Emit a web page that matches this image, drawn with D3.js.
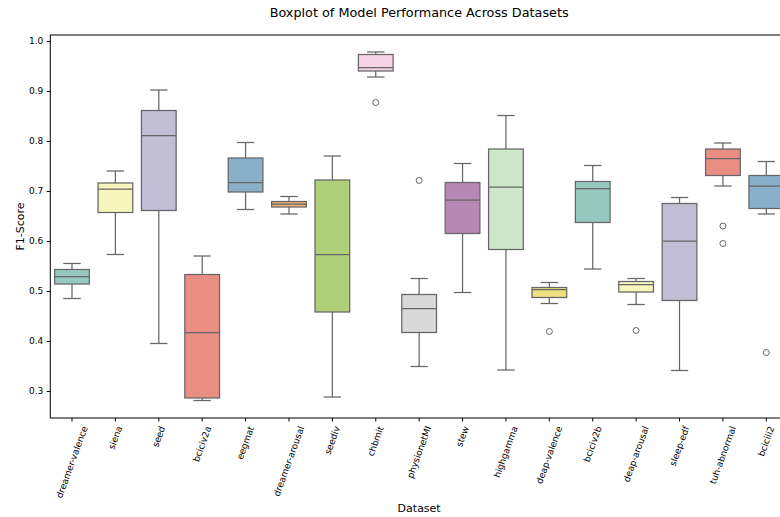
<!DOCTYPE html>
<html>
<head>
<meta charset="utf-8">
<script src="https://cdn.jsdelivr.net/npm/d3@7/dist/d3.min.js"></script>
<style>
  html, body { margin: 0; padding: 0; background: #fff; }
  svg { display: block; font-family: "DejaVu Sans", sans-serif; }
</style>
</head>
<body>
<svg id="chart" width="780" height="517"></svg>
<script>
// Per-dataset F1-score summaries (whisker ends, quartiles, median, fliers)
const datasets = ["dreamer-valence", "siena", "seed", "bciciv2a", "eegmat", "dreamer-arousal",
  "seediv", "chbmit", "physionetMI", "stew", "highgamma", "deap-valence", "bciciv2b",
  "deap-arousal", "sleep-edf", "tuh-abnormal", "bciciii2"];
const whiskerLow  = [0.485, 0.573, 0.395, 0.281, 0.663, 0.654, 0.288, 0.928, 0.349, 0.497, 0.342, 0.475, 0.544, 0.473, 0.341, 0.710, 0.654];
const q1          = [0.514, 0.657, 0.661, 0.286, 0.698, 0.668, 0.458, 0.940, 0.417, 0.615, 0.583, 0.487, 0.637, 0.498, 0.481, 0.731, 0.665];
const medians     = [0.529, 0.704, 0.811, 0.417, 0.717, 0.674, 0.573, 0.947, 0.465, 0.682, 0.708, 0.503, 0.705, 0.513, 0.600, 0.765, 0.710];
const q3          = [0.543, 0.716, 0.861, 0.533, 0.766, 0.679, 0.722, 0.973, 0.493, 0.717, 0.784, 0.507, 0.719, 0.519, 0.675, 0.784, 0.731];
const whiskerHigh = [0.555, 0.740, 0.902, 0.570, 0.797, 0.689, 0.770, 0.978, 0.525, 0.755, 0.851, 0.517, 0.751, 0.525, 0.687, 0.796, 0.759];
const outliers    = [[], [], [], [], [], [], [], [0.877], [0.721], [], [], [0.419], [], [0.421], [], [0.630, 0.595], [0.377]];
const yTicks = [0.3, 0.4, 0.5, 0.6, 0.7, 0.8, 0.9, 1.0];
const palette = ["#8dd3c7", "#ffffb3", "#bebada", "#fb8072", "#80b1d3", "#fdb462",
  "#b3de69", "#fccde5", "#d9d9d9", "#bc80bd", "#ccebc5", "#ffed6f"];

(function draw() {
  const svg = d3.select("#chart");
  const pLeft = 50.3, pRight = 788, pTop = 35, pBottom = 418;
  const lineColor = "#666666";
  const tickFont = 9;

  const x = d3.scaleBand().domain(datasets).range([pLeft, pRight]).padding(0);
  const y = d3.scaleLinear().domain([0.246, 1.012]).range([pBottom, pTop]);

  // softened fill colours, as seaborn does (saturation * 0.75)
  const fillFor = i => {
    const c = d3.hsl(palette[i % palette.length]);
    c.s *= 0.75;
    return c.formatHex();
  };

  const boxW = x.bandwidth() * 0.8;
  const capW = boxW * 0.5;

  const g = svg.append("g");
  datasets.forEach((name, i) => {
    const cx = x(name) + x.bandwidth() / 2;
    const grp = g.append("g");
    // whiskers
    grp.append("line").attr("x1", cx).attr("x2", cx)
      .attr("y1", y(q3[i])).attr("y2", y(whiskerHigh[i]))
      .attr("stroke", lineColor).attr("stroke-width", 1.25);
    grp.append("line").attr("x1", cx).attr("x2", cx)
      .attr("y1", y(q1[i])).attr("y2", y(whiskerLow[i]))
      .attr("stroke", lineColor).attr("stroke-width", 1.25);
    // caps
    [whiskerHigh[i], whiskerLow[i]].forEach(v => {
      grp.append("line").attr("x1", cx - capW / 2).attr("x2", cx + capW / 2)
        .attr("y1", y(v)).attr("y2", y(v))
        .attr("stroke", lineColor).attr("stroke-width", 1.25);
    });
    // box
    grp.append("rect")
      .attr("x", cx - boxW / 2).attr("width", boxW)
      .attr("y", y(q3[i])).attr("height", y(q1[i]) - y(q3[i]))
      .attr("fill", fillFor(i)).attr("stroke", lineColor).attr("stroke-width", 1.25);
    // median
    grp.append("line").attr("x1", cx - boxW / 2).attr("x2", cx + boxW / 2)
      .attr("y1", y(medians[i])).attr("y2", y(medians[i]))
      .attr("stroke", lineColor).attr("stroke-width", 1.25);
    // fliers
    outliers[i].forEach(v => {
      grp.append("circle").attr("cx", cx).attr("cy", y(v)).attr("r", 3)
        .attr("fill", "none").attr("stroke", lineColor).attr("stroke-width", 1);
    });
  });

  // axes frame
  svg.append("rect").attr("x", pLeft).attr("y", pTop)
    .attr("width", pRight - pLeft).attr("height", pBottom - pTop)
    .attr("fill", "none").attr("stroke", "#000").attr("stroke-width", 1);

  // y axis
  const yAxis = d3.axisLeft(y).tickValues(yTicks).tickFormat(d3.format(".1f")).tickSize(3.5).tickPadding(3.5);
  const yg = svg.append("g").attr("transform", `translate(${pLeft},0)`).call(yAxis);
  yg.select(".domain").remove();
  yg.selectAll("text").attr("font-size", tickFont).attr("fill", "#000").attr("font-family", "DejaVu Sans");
  yg.selectAll("line").attr("stroke", "#000");

  // x axis
  const xAxis = d3.axisBottom(x).tickSize(3.5).tickFormat("");
  const xg = svg.append("g").attr("transform", `translate(0,${pBottom})`).call(xAxis);
  xg.select(".domain").remove();
  xg.selectAll("line").attr("stroke", "#000");

  // rotated x tick labels, bounding box centred under each tick
  const ang = 70 * Math.PI / 180;
  const labelTop = pBottom + 7;
  datasets.forEach(name => {
    const cx = x(name) + x.bandwidth() / 2;
    const t = svg.append("text").text(name)
      .attr("font-size", tickFont).attr("fill", "#000")
      .attr("text-anchor", "middle").attr("dominant-baseline", "central");
    const L = t.node().getComputedTextLength();
    const h = tickFont;
    const cy = labelTop + (L * Math.sin(ang) + h * Math.cos(ang)) / 2;
    t.attr("transform", `translate(${cx},${cy}) rotate(-70)`);
  });

  // axis titles and chart title
  svg.append("text").text("F1-Score")
    .attr("transform", `translate(20,${(pTop + pBottom) / 2}) rotate(-90)`)
    .attr("text-anchor", "middle").attr("dominant-baseline", "central")
    .attr("font-size", 11).attr("fill", "#000");
  svg.append("text").text("Dataset")
    .attr("x", (pLeft + pRight) / 2).attr("y", 508)
    .attr("text-anchor", "middle").attr("dominant-baseline", "central")
    .attr("font-size", 11).attr("fill", "#000");
  svg.append("text").text("Boxplot of Model Performance Across Datasets")
    .attr("x", (pLeft + pRight) / 2).attr("y", 12)
    .attr("text-anchor", "middle").attr("dominant-baseline", "central")
    .attr("font-size", 12.8).attr("fill", "#000");
})();
</script>
</body>
</html>
